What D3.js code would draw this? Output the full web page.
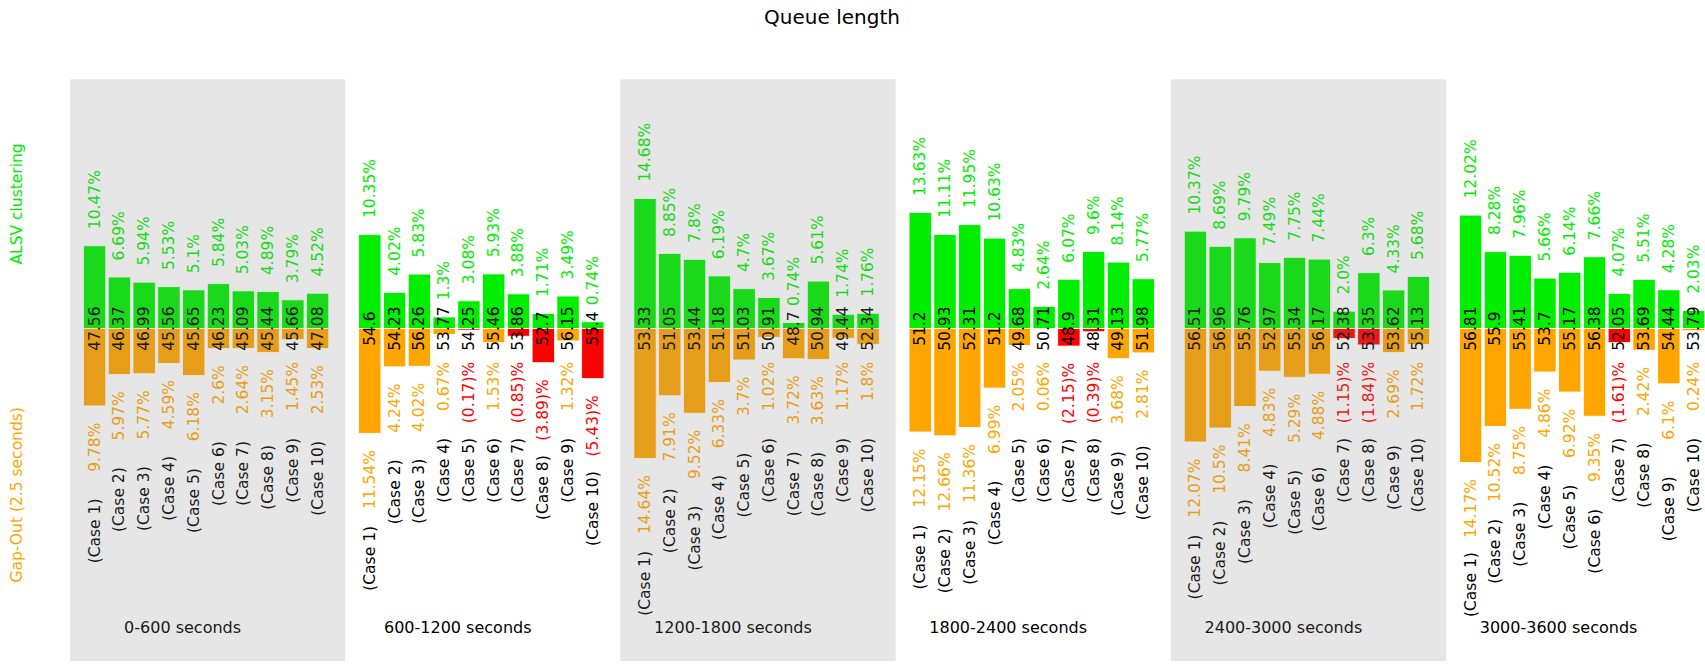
<!DOCTYPE html>
<html>
<head>
<meta charset="utf-8">
<script src="https://cdn.jsdelivr.net/npm/d3@7"></script>
<style>
  html, body { margin: 0; padding: 0; background: #fff; overflow: hidden; }
  text { font-family: "DejaVu Sans", "Noto Sans", sans-serif; }
</style>
</head>
<body>
<svg id="chart" width="1705" height="669"></svg>
<script>
// Time windows (one panel each)
const periods = ["0-600 seconds", "600-1200 seconds", "1200-1800 seconds",
                 "1800-2400 seconds", "2400-3000 seconds", "3000-3600 seconds"];
const caseNames = ["(Case 1)", "(Case 2)", "(Case 3)", "(Case 4)", "(Case 5)",
                   "(Case 6)", "(Case 7)", "(Case 8)", "(Case 9)", "(Case 10)"];

// Baseline queue length per case, one row per time window
const queueLength = [
  [47.56, 46.37, 46.99, 45.56, 45.65, 46.23, 45.09, 45.44, 45.66, 47.08],
  [54.6, 54.23, 56.26, 53.77, 54.25, 55.46, 53.86, 52.7, 56.15, 55.4],
  [53.33, 51.05, 53.44, 51.18, 51.03, 50.91, 48.7, 50.94, 49.44, 52.34],
  [51.2, 50.93, 52.31, 51.2, 49.68, 50.71, 48.9, 48.31, 49.13, 51.98],
  [56.51, 56.96, 55.76, 52.97, 55.34, 56.17, 52.38, 53.35, 53.62, 55.13],
  [56.81, 55.9, 55.41, 53.7, 55.17, 56.38, 52.05, 53.69, 54.44, 53.79]
];

// Reduction (%) achieved by ALSV clustering
const alsvReduction = [
  [10.47, 6.69, 5.94, 5.53, 5.1, 5.84, 5.03, 4.89, 3.79, 4.52],
  [10.35, 4.02, 5.83, 1.3, 3.08, 5.93, 3.88, 1.71, 3.49, 0.74],
  [14.68, 8.85, 7.8, 6.19, 4.7, 3.67, 0.74, 5.61, 1.74, 1.76],
  [13.63, 11.11, 11.95, 10.63, 4.83, 2.64, 6.07, 9.6, 8.14, 5.77],
  [10.37, 8.69, 9.79, 7.49, 7.75, 7.44, 2.0, 6.3, 4.33, 5.68],
  [12.02, 8.28, 7.96, 5.66, 6.14, 7.66, 4.07, 5.51, 4.28, 2.03]
];

// Reduction (%) achieved by Gap-Out (2.5 seconds); negative = increase
const gapOutReduction = [
  [9.78, 5.97, 5.77, 4.59, 6.18, 2.6, 2.64, 3.15, 1.45, 2.53],
  [11.54, 4.24, 4.02, 0.67, -0.17, 1.53, -0.85, -3.89, 1.32, -5.43],
  [14.64, 7.91, 9.52, 6.33, 3.7, 1.02, 3.72, 3.63, 1.17, 1.8],
  [12.15, 12.66, 11.36, 6.99, 2.05, 0.06, -2.15, -0.39, 3.68, 2.81],
  [12.07, 10.5, 8.41, 4.83, 5.29, 4.88, -1.15, -1.84, 2.69, 1.72],
  [14.17, 10.52, 8.75, 4.86, 6.92, 9.35, -1.61, 2.42, 6.1, 0.24]
];

const GREEN = "#00ee00", ORANGE = "#ffa500", RED = "#ff0000";
const FS = 15.5;

const svg = d3.select("#chart");

// shared vertical scale: queue-length change in vehicles
const y = d3.scaleLinear().domain([-20, 15]).range([661, 79.3]);
const panelLeft = 70, panelWidth = 275.2;

const fmt = v => Number.isInteger(v) ? v.toFixed(1) : String(v);
const pctText = v => v < 0 ? `(${fmt(-v)})%` : `${fmt(v)}%`;

function vtext(g, x, yy, str, anchor, color) {
  return g.append("text")
    .attr("transform", `translate(${x},${yy}) rotate(-90)`)
    .attr("text-anchor", anchor)
    .attr("dominant-baseline", "central")
    .attr("font-size", FS)
    .attr("fill", color)
    .text(str);
}

periods.forEach((period, p) => {
  const left = panelLeft + p * panelWidth;
  const x = d3.scaleLinear().domain([-0.993, 10.113]).range([left, left + panelWidth]);
  const g = svg.append("g");
  const bw = x(0.45) - x(-0.45);

  const rows = caseNames.map((name, i) => {
    const base = queueLength[p][i];
    const ga = alsvReduction[p][i];
    const go = gapOutReduction[p][i];
    return { name, i, base, ga, go,
             up: base * ga / 100, down: base * Math.abs(go) / 100 };
  });

  // ALSV bars (upward)
  g.selectAll("rect.alsv").data(rows).join("rect")
    .attr("class", "alsv")
    .attr("x", d => x(d.i) - bw / 2)
    .attr("y", d => y(d.up))
    .attr("width", bw)
    .attr("height", d => y(0) - y(d.up))
    .attr("fill", GREEN)
    .attr("stroke", "#fff").attr("stroke-width", 0.8);

  // Gap-Out bars (downward)
  g.selectAll("rect.gap").data(rows).join("rect")
    .attr("class", "gap")
    .attr("x", d => x(d.i) - bw / 2)
    .attr("y", y(0))
    .attr("width", bw)
    .attr("height", d => y(-d.down) - y(0))
    .attr("fill", d => d.go < 0 ? RED : ORANGE)
    .attr("stroke", "#fff").attr("stroke-width", 0.8);

  const caseLimit = 617;
  rows.forEach(d => {
    const cx = x(d.i);
    // baseline queue length, centred on the zero line
    vtext(g, cx, y(0), fmt(d.base), "middle", "#000");
    // ALSV percentage above green bar
    vtext(g, cx, y(d.up + 1), pctText(d.ga), "start", GREEN);
    // Gap-Out percentage below the orange/red bar
    const pctTop = y(-(Math.max(d.down, 1) + 1));
    vtext(g, cx, pctTop, pctText(d.go), "end", d.go < 0 ? RED : ORANGE);
    // case name further below
    const t = vtext(g, cx, 0, d.name, "end", "#000");
    const len = t.node().getComputedTextLength();
    const top = Math.min(pctTop + 76, caseLimit - len);
    t.attr("transform", `translate(${cx},${top}) rotate(-90)`);
  });

  // window label
  g.append("text")
    .attr("x", x(3.55)).attr("y", 632.5)
    .attr("text-anchor", "middle")
    .attr("font-size", 16)
    .attr("fill", "#000")
    .text(period);

  // alternate shading laid over every other window
  if (p % 2 === 0) {
    g.append("rect")
      .attr("x", left).attr("y", y(15))
      .attr("width", panelWidth).attr("height", y(-20) - y(15))
      .attr("fill", "#808080").attr("fill-opacity", 0.2);
  }
});

// side labels
svg.append("text")
  .attr("transform", `translate(17,${(y(15) + y(0)) / 2}) rotate(-90)`)
  .attr("text-anchor", "middle").attr("dominant-baseline", "central")
  .attr("font-size", FS).attr("fill", GREEN)
  .text("ALSV clustering");
svg.append("text")
  .attr("transform", `translate(17,${(y(0) + y(-20)) / 2}) rotate(-90)`)
  .attr("text-anchor", "middle").attr("dominant-baseline", "central")
  .attr("font-size", FS).attr("fill", ORANGE)
  .text("Gap-Out (2.5 seconds)");

// title
svg.append("text")
  .attr("x", 832).attr("y", 24)
  .attr("text-anchor", "middle")
  .attr("font-size", 20).attr("fill", "#000")
  .text("Queue length");
</script>
</body>
</html>
